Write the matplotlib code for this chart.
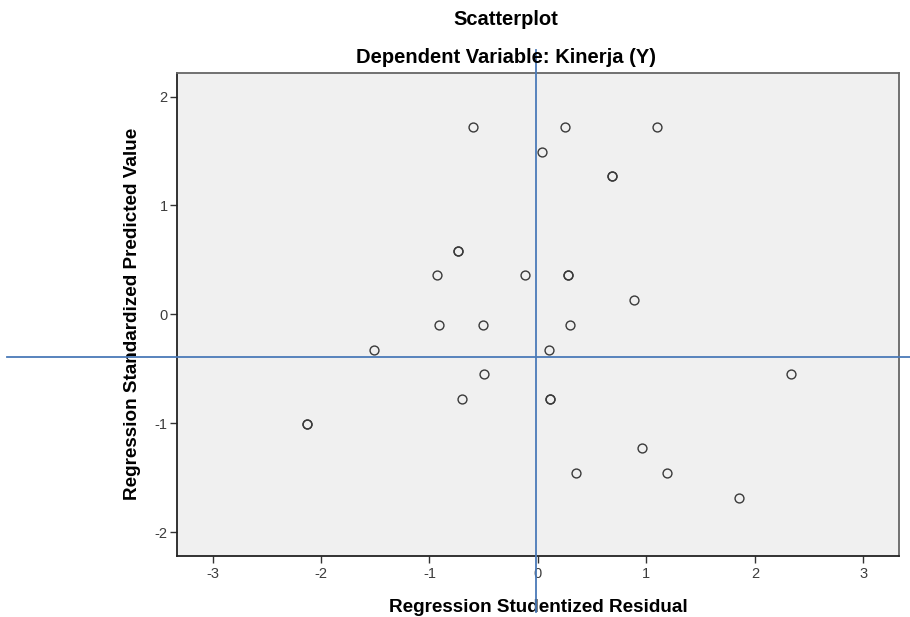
import matplotlib
matplotlib.use('Agg')
import matplotlib.pyplot as plt

plt.rcParams['font.family'] = ['Liberation Sans', 'DejaVu Sans']
plt.rcParams['axes.unicode_minus'] = False

# studentized residual (x) vs standardized predicted value (y)
resid = [-0.60, 0.04, 0.25, 1.10, 0.68, 0.68,
         -0.74, -0.74, -0.93, -0.12, 0.28, 0.28, 0.89,
         -0.91, -0.51, 0.30,
         -1.51, 0.10, -0.50, 2.33,
         -0.70, 0.115, 0.115, -2.13, -2.13,
         0.96, 0.35, 1.19, 1.85]
pred = [1.72, 1.49, 1.72, 1.72, 1.27, 1.27,
        0.585, 0.585, 0.36, 0.36, 0.36, 0.36, 0.13,
        -0.098, -0.098, -0.098,
        -0.325, -0.325, -0.55, -0.55,
        -0.78, -0.78, -0.78, -1.01, -1.01,
        -1.23, -1.46, -1.46, -1.69]

xticks = [-3, -2, -1, 0, 1, 2, 3]
yticks = [-2, -1, 0, 1, 2]
ref_x = -0.014   # hand drawn vertical line
ref_y = -0.395   # hand drawn horizontal line

fig = plt.figure(figsize=(9.10, 6.17), dpi=100)
ax = fig.add_axes([0.1942, 0.0989, 0.7938, 0.7833])
ax.set_facecolor('#f0f0f0')

ax.plot(resid, pred, linestyle='none', marker='o', markersize=6.4,
        markerfacecolor='none', markeredgecolor='#3a3a3a', markeredgewidth=1.0)

ax.set_xlim(-3.33, 3.33)
ax.set_ylim(-2.22, 2.22)
ax.set_xticks(xticks)
ax.set_yticks(yticks)
ax.tick_params(direction='out', length=5, width=1, color='#333333',
               labelsize=10.5, labelcolor='#3c3c3c')
ax.tick_params(axis='x', pad=3)
ax.tick_params(axis='y', pad=1.5)
for s in ['top', 'right']:
    ax.spines[s].set_color('#666666')
    ax.spines[s].set_linewidth(1.3)
for s in ['left', 'bottom']:
    ax.spines[s].set_color('#222222')
    ax.spines[s].set_linewidth(1.3)

ax.set_xlabel('Regression Studentized Residual', fontsize=13.6, fontweight='bold', va='baseline')
ax.xaxis.set_label_coords(0.5, -0.1152)
ax.set_ylabel('Regression Standardized Predicted Value', fontsize=13.6, fontweight='bold', va='center')
ax.yaxis.set_label_coords(-0.0612, 0.5)

fig.text(0.556, 0.9595, 'Scatterplot', ha='center', va='baseline', fontsize=14.5, fontweight='bold')
fig.text(0.556, 0.898, 'Dependent Variable: Kinerja (Y)', ha='center', va='baseline', fontsize=14.5, fontweight='bold')

# reference lines reaching past the axes
ax.axhline(ref_y, xmin=-0.2345, xmax=1.015, color='#4a7ab8', linewidth=1.3, clip_on=False, zorder=5)
ax.axvline(ref_x, ymin=-0.115, ymax=1.047, color='#4a7ab8', linewidth=1.3, clip_on=False, zorder=5)

plt.savefig('out.png', dpi=100, facecolor='white')
